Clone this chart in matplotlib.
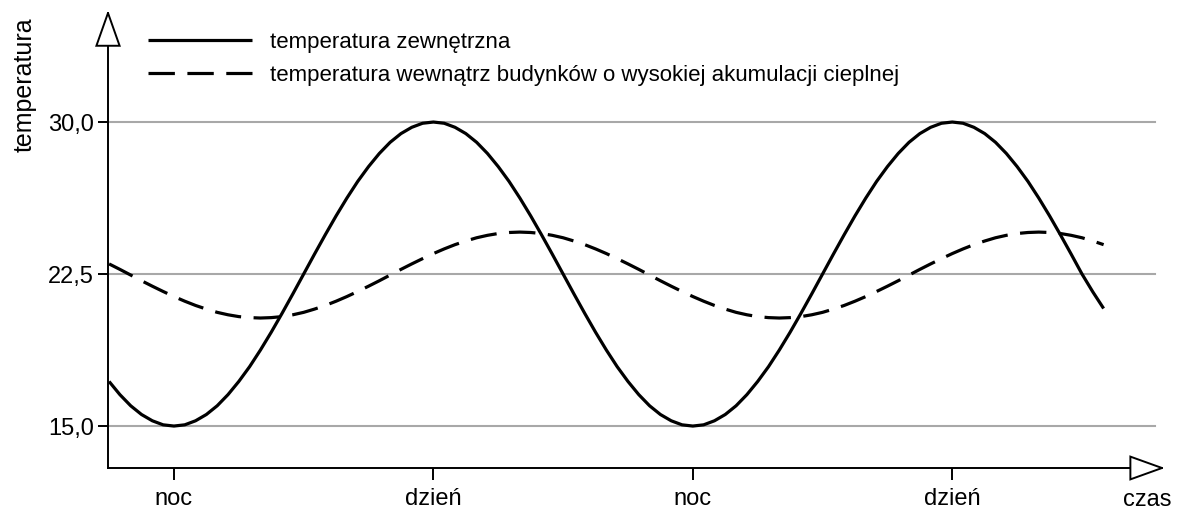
import matplotlib
matplotlib.use("Agg")
import matplotlib.pyplot as plt
from matplotlib.patches import Polygon

plt.rcParams['font.family'] = ['Liberation Sans', 'DejaVu Sans']
plt.rcParams['lines.scale_dashes'] = False

# time in hours (noc = 0, dzień = 12, noc = 24, dzień = 36), half-hour readings
hours = [i * 0.5 for i in range(-6, 87)]
temp_outside = [17.20, 16.55, 16.00, 15.57, 15.26, 15.06,
                15.00, 15.06, 15.26, 15.57, 16.00, 16.55, 17.20, 17.93, 18.75, 19.63,
                20.56, 21.52, 22.50, 23.48, 24.44, 25.37, 26.25, 27.07, 27.80, 28.45,
                29.00, 29.43, 29.74, 29.94, 30.00, 29.94, 29.74, 29.43, 29.00, 28.45,
                27.80, 27.07, 26.25, 25.37, 24.44, 23.48, 22.50, 21.52, 20.56, 19.63,
                18.75, 17.93, 17.20, 16.55, 16.00, 15.57, 15.26, 15.06,
                15.00, 15.06, 15.26, 15.57, 16.00, 16.55, 17.20, 17.93, 18.75, 19.63,
                20.56, 21.52, 22.50, 23.48, 24.44, 25.37, 26.25, 27.07, 27.80, 28.45,
                29.00, 29.43, 29.74, 29.94, 30.00, 29.94, 29.74, 29.43, 29.00, 28.45,
                27.80, 27.07, 26.25, 25.37, 24.44, 23.48, 22.50, 21.62, 20.80]
temp_inside = [23.00, 22.73, 22.45, 22.17, 21.90, 21.64, 21.39, 21.16, 20.95, 20.77,
               20.61, 20.49, 20.40, 20.35,
               20.33, 20.35, 20.40, 20.49, 20.61, 20.77, 20.95, 21.16, 21.39, 21.64,
               21.90, 22.17, 22.45, 22.73, 23.00, 23.26, 23.51, 23.74, 23.95, 24.13,
               24.29, 24.41, 24.50, 24.55, 24.57, 24.55, 24.50, 24.41, 24.29, 24.13,
               23.95, 23.74, 23.51, 23.26, 23.00, 22.73, 22.45, 22.17, 21.90, 21.64,
               21.39, 21.16, 20.95, 20.77, 20.61, 20.49, 20.40, 20.35,
               20.33, 20.35, 20.40, 20.49, 20.61, 20.77, 20.95, 21.16, 21.39, 21.64,
               21.90, 22.17, 22.45, 22.73, 23.00, 23.26, 23.51, 23.74, 23.95, 24.13,
               24.29, 24.41, 24.50, 24.55, 24.57, 24.55, 24.50, 24.41, 24.29, 24.13,
               23.95]
y_ticks = [15.0, 22.5, 30.0]
y_tick_labels = ["15,0", "22,5", "30,0"]
x_ticks = [0, 12, 24, 36]
x_tick_labels = ["noc", "dzień", "noc", "dzień"]
series_labels = ["temperatura zewnętrzna",
                 "temperatura wewnątrz budynków o wysokiej akumulacji cieplnej"]

W, H = 1180, 513
fig = plt.figure(figsize=(W / 100, H / 100), dpi=100)
left, right, bottom, top = 108, 1162, 468, 13
ax = fig.add_axes([left / W, 1 - bottom / H, (right - left) / W, (bottom - top) / H])
ax.set_xlim(-3.05, 45.7)
ax.set_ylim(12.93, 35.38)

for s in ['top', 'right']:
    ax.spines[s].set_visible(False)
for s in ['left', 'bottom']:
    ax.spines[s].set_linewidth(1.4)
    ax.spines[s].set_color('black')

for yv in y_ticks:
    ax.axhline(yv, xmin=0, xmax=0.993, color='#a8a8a8', lw=1.5, zorder=1)

ax.plot(hours, temp_outside, color='black', lw=2.3, solid_joinstyle='round',
        solid_capstyle='butt', label=series_labels[0], zorder=3)
ax.plot(hours, temp_inside, color='black', lw=2.3, dashes=[19, 9],
        dash_capstyle='butt', label=series_labels[1], zorder=3)

fs = 17
ax.set_yticks(y_ticks)
ax.set_yticklabels(y_tick_labels, fontsize=fs)
ax.set_xticks(x_ticks)
ax.set_xticklabels(x_tick_labels, fontsize=fs)
ax.tick_params(axis='y', direction='out', length=7, width=1.4, color='black', pad=3)
ax.tick_params(axis='x', direction='out', length=8.5, width=1.4, color='black', pad=6)

# arrows
ax.add_patch(Polygon([[-0.011, 0.928], [0.011, 0.928], [0.0, 1.0]], closed=True,
                     transform=ax.transAxes, facecolor='white', edgecolor='black',
                     lw=1.4, clip_on=False, zorder=5))
ax.add_patch(Polygon([[0.97, 0.025], [0.97, -0.025], [1.0, 0.0]], closed=True,
                     transform=ax.transAxes, facecolor='white', edgecolor='black',
                     lw=1.4, clip_on=False, zorder=5))

fig.text(25 / W, 1 - 85 / H, "temperatura", rotation=90, fontsize=18,
         ha='center', va='center')
fig.text(1147 / W, 1 - 500 / H, "czas", fontsize=fs, ha='center', va='center')

lfs = 16
leg = ax.legend(loc='upper left', bbox_to_anchor=(148 / W, 1 - 32 / H),
                bbox_transform=fig.transFigure, frameon=False, fontsize=lfs,
                handlelength=4.68, handletextpad=0.81, labelspacing=0.55,
                borderpad=0, borderaxespad=0)

fig.savefig("out.png", dpi=100)
